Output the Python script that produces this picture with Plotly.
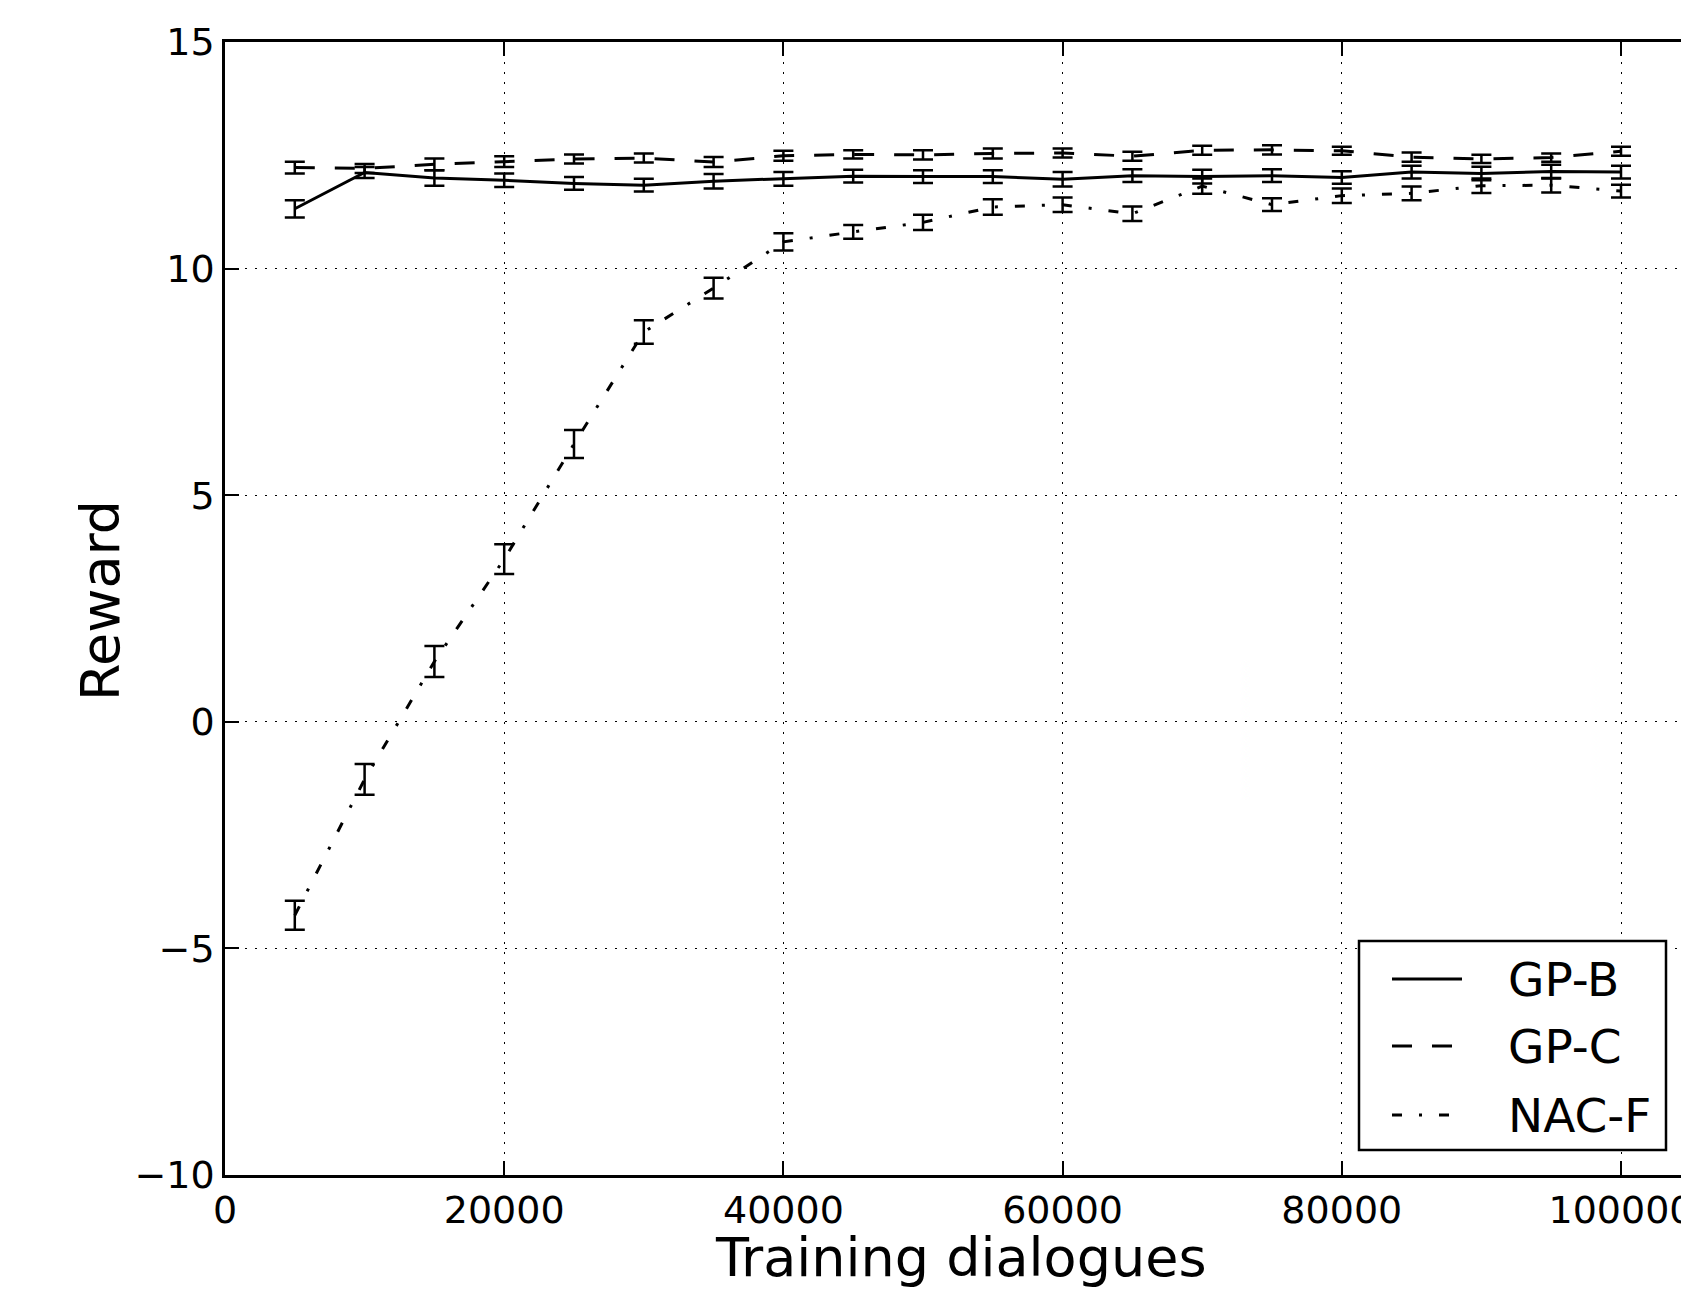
import plotly.graph_objects as go

# ---------------- data ----------------
training_dialogues = [5000, 10000, 15000, 20000, 25000, 30000, 35000, 40000, 45000, 50000,
                      55000, 60000, 65000, 70000, 75000, 80000, 85000, 90000, 95000, 100000]

gp_b = [11.32, 12.12, 12.00, 11.95, 11.88, 11.84, 11.93, 11.98, 12.04, 12.03,
        12.03, 11.97, 12.05, 12.03, 12.05, 12.01, 12.13, 12.10, 12.14, 12.13]
gp_b_err = [0.19, 0.12, 0.17, 0.15, 0.14, 0.14, 0.16, 0.15, 0.14, 0.14,
            0.14, 0.16, 0.14, 0.15, 0.14, 0.14, 0.14, 0.15, 0.15, 0.14]

gp_c = [12.23, 12.21, 12.30, 12.36, 12.42, 12.44, 12.35, 12.49, 12.52, 12.51,
        12.54, 12.55, 12.48, 12.61, 12.62, 12.60, 12.46, 12.42, 12.45, 12.59]
gp_c_err = [0.13, 0.10, 0.13, 0.12, 0.10, 0.10, 0.11, 0.11, 0.09, 0.10,
            0.11, 0.10, 0.10, 0.10, 0.10, 0.09, 0.10, 0.09, 0.09, 0.10]

nac_f = [-4.27, -1.27, 1.33, 3.59, 6.13, 8.60, 9.57, 10.59, 10.81, 11.02,
         11.36, 11.41, 11.21, 11.82, 11.41, 11.61, 11.66, 11.83, 11.84, 11.71]
nac_f_err = [0.32, 0.34, 0.34, 0.33, 0.31, 0.26, 0.23, 0.19, 0.15, 0.17,
             0.17, 0.16, 0.16, 0.17, 0.14, 0.16, 0.15, 0.16, 0.16, 0.14]

series_names = ["GP-B", "GP-C", "NAC-F"]

x_tick_vals = [0, 20000, 40000, 60000, 80000, 100000]
x_tick_text = ["0", "20000", "40000", "60000", "80000", "100000"]
y_tick_vals = [-10, -5, 0, 5, 10, 15]
y_tick_text = ["\u221210", "\u22125", "0", "5", "10", "15"]

x_title = "Training dialogues"
y_title = "Reward"

# ---------------- styling / layout ----------------
# The original figure is cropped on the right: the axes run past the
# window edge.  The figure is made a little wider than the window and the
# overflow is hidden.
W, H = 1700, 1289
AX_L, AX_T, AX_B = 225, 42, 1175          # plot-area edges in pixels
X100K_PX = 1621                           # pixel position of the 100000 tick
ML, MT, MB, MR = AX_L, AX_T, H - AX_B, 0
PW, PH = W - ML - MR, H - MT - MB
X_MAX = PW / (X100K_PX - AX_L) * 100000
FONT = "DejaVu Sans"

dashes = ["solid", "20px,20px", "10px,17px,3px,17px"]
LW = 3


def px_x(p):
    return (p - AX_L) / PW


def px_y(p):
    return (AX_B - p) / PH


fig = go.Figure()
for name, ys, es, dash in zip(series_names, [gp_b, gp_c, nac_f],
                              [gp_b_err, gp_c_err, nac_f_err], dashes):
    fig.add_trace(go.Scatter(
        x=training_dialogues, y=ys, name=name, mode="lines",
        line=dict(color="black", width=LW, dash=dash),
        error_y=dict(type="data", array=es, visible=True, color="black",
                     thickness=2.5, width=10),
        showlegend=False,
    ))

axis_common = dict(
    showline=True, linecolor="black", linewidth=2.5,
    ticks="inside", ticklen=14, tickwidth=1.5, tickcolor="black",
    showgrid=True, gridcolor="black", gridwidth=1, griddash="2px,8px",
    zeroline=False, ticklabeloverflow="allow", automargin=False,
    tickfont=dict(family=FONT, size=38, color="black"),
)

fig.update_xaxes(range=[0, X_MAX], tickvals=x_tick_vals, ticktext=x_tick_text,
                 mirror="ticks", **axis_common)
fig.update_yaxes(range=[-10, 15], tickvals=y_tick_vals, ticktext=y_tick_text,
                 mirror=False, **axis_common)

annotations = [
    dict(text=x_title, xref="x", x=52750, yref="paper", y=px_y(1257),
         xanchor="center", yanchor="middle", showarrow=False,
         font=dict(family=FONT, size=54, color="black")),
    dict(text=y_title, xref="paper", x=px_x(100), yref="paper", y=px_y(601),
         xanchor="center", yanchor="middle", textangle=-90, showarrow=False,
         font=dict(family=FONT, size=54, color="black")),
]

shapes = [
    dict(type="rect", xref="paper", yref="paper",
         x0=px_x(1359), x1=px_x(1666), y0=px_y(1150), y1=px_y(941),
         line=dict(color="black", width=2.5), fillcolor="white", layer="above"),
]

legend_rows = [979, 1046, 1115]
for name, dash, ry in zip(series_names, dashes, legend_rows):
    shapes.append(dict(type="line", xref="paper", yref="paper",
                       x0=px_x(1392), x1=px_x(1462), y0=px_y(ry), y1=px_y(ry),
                       line=dict(color="black", width=LW, dash=dash), layer="above"))
    annotations.append(dict(text=name, xref="paper", x=px_x(1506), yref="paper",
                            y=px_y(ry), xanchor="left", yanchor="middle",
                            showarrow=False,
                            font=dict(family=FONT, size=47, color="black")))

fig.update_layout(
    width=W, height=H, autosize=False,
    margin=dict(l=ML, r=MR, t=MT, b=MB, pad=0),
    paper_bgcolor="white", plot_bgcolor="white",
    font=dict(family=FONT, color="black"),
    annotations=annotations, shapes=shapes,
    showlegend=False,
)

# Remove the default 8px page margin so the figure starts at the window's
# top-left corner; the part past the window edge is hidden.
fig.write_html(
    "out.html",
    config={"displayModeBar": False},
    post_script="document.body.style.margin='0';"
                "document.documentElement.style.overflow='hidden';",
)
